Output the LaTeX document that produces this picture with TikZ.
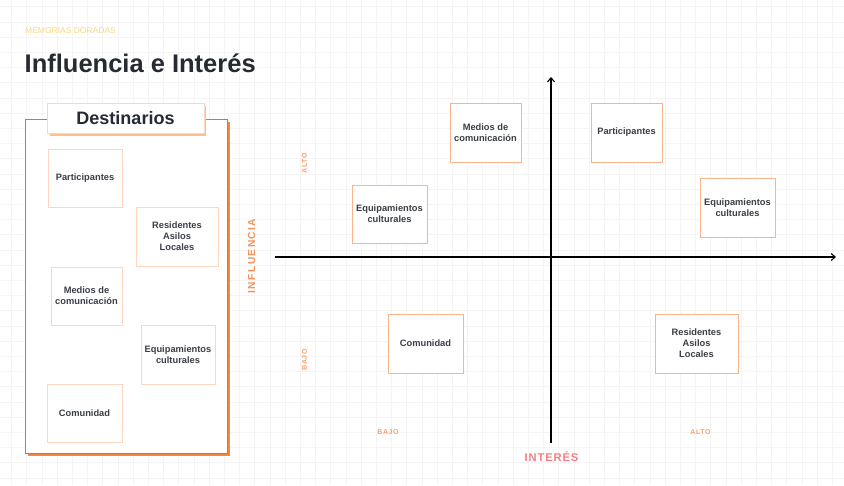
\documentclass[tikz,border=0pt]{standalone}
\usepackage{fontspec}
\setmainfont{Liberation Sans}
\newfontfamily\wideA[LetterSpace=14]{Liberation Sans}
\newfontfamily\wideB[LetterSpace=8]{Liberation Sans}
\usetikzlibrary{arrows.meta}
\definecolor{gridc}{HTML}{F4F4F4}
\definecolor{memo}{HTML}{FDD87E}
\definecolor{titlec}{HTML}{262B33}
\definecolor{txt}{HTML}{3A3E46}
\definecolor{borderR}{HTML}{FBB48A}
\definecolor{borderL}{HTML}{FDD6BD}
\definecolor{shadowO}{HTML}{F5873F}
\definecolor{shadowL}{HTML}{FDC08C}
\definecolor{panelgray}{HTML}{8A8A8A}
\definecolor{inflc}{HTML}{F4935C}
\definecolor{interc}{HTML}{F57E84}
\definecolor{smallc}{HTML}{F8A06E}
\tikzset{
  card/.style={draw=#1, fill=white, line width=0.8pt, inner sep=0pt, align=center,
    font=\fontsize{9.3}{11}\selectfont\bfseries, text=txt},
  card/.default=borderR,
  axis/.style={line width=1.2pt, black, -{Straight Barb[length=4pt,width=7pt,line width=1.1pt]}},
  smalllab/.style={font=\wideB\fontsize{7}{8}\selectfont\bfseries, text=smallc, inner sep=0pt}
}
\begin{document}
\begin{tikzpicture}[x=1pt,y=-1pt]
\useasboundingbox (0,0) rectangle (844,485);
\fill[white] (0,0) rectangle (844,485);
% grid
\foreach \i in {0,...,55} {\draw[gridc, line width=0.8pt] ({11.5+15.2*\i},0) -- ({11.5+15.2*\i},485);}
\foreach \j in {0,...,31} {\draw[gridc, line width=0.8pt] (0,{6.8+15.2*\j}) -- (844,{6.8+15.2*\j});}

% header
\node[anchor=base west, inner sep=0pt, text=memo, font=\fontsize{8.5}{10}\selectfont] (memo) at (25,33.3) {MEMORIAS DORADAS};
\node[anchor=base west, inner sep=0pt, text=titlec, font=\fontsize{25.5}{30}\selectfont\bfseries] (title) at (24.5,72) {Influencia e Interés};

% left panel
\fill[shadowO] (28,122) rectangle (229.6,455.6);
\draw[panelgray, fill=white, line width=1pt] (25,119.5) rectangle (227,453.3);
\fill[shadowL] (49.5,105.5) rectangle (206.3,135.6);
\node[draw=borderL, fill=white, line width=0.8pt, minimum width=157pt, minimum height=30pt, inner sep=0pt,
  font=\fontsize{18}{20}\selectfont\bfseries, text=titlec] (dest) at (125.5,118) {Destinarios};

\node[card=borderL, minimum width=74pt, minimum height=58pt] (lp) at (85,178) {Participantes};
\node[card=borderL, minimum width=82pt, minimum height=59pt] (lr) at (177,236.5) {Residentes\\Asilos\\Locales};
\node[card=borderL, minimum width=71pt, minimum height=58pt] (lm) at (86.5,296) {Medios de\\comunicación};
\node[card=borderL, minimum width=74pt, minimum height=59pt] (le) at (178,354.5) {Equipamientos\\culturales};
\node[card=borderL, minimum width=75pt, minimum height=58pt] (lc) at (84.5,413) {Comunidad};

% axes
\coordinate (xl) at (275,257);
\coordinate (xr) at (836,257);
\coordinate (yb) at (551,443);
\coordinate (yt) at (551,77);
\draw[axis] (xl) -- (xr);
\draw[axis] (yb) -- (yt);

% quadrant cards
\node[card, minimum width=71pt, minimum height=59pt] (rm) at (485.5,132.5) {Medios de\\comunicación};
\node[card, minimum width=71pt, minimum height=59pt] (rp) at (626.5,132.5) {Participantes};
\node[card, minimum width=75pt, minimum height=58pt] (re1) at (389.5,214) {Equipamientos\\culturales};
\node[card, minimum width=75pt, minimum height=59pt] (re2) at (737.5,207.5) {Equipamientos\\culturales};
\node[card, minimum width=75pt, minimum height=59pt] (rc) at (425.5,343.5) {Comunidad};
\node[card, minimum width=83pt, minimum height=59pt] (rr) at (696.5,343.5) {Residentes\\Asilos\\Locales};

% axis labels
\node[rotate=90, inner sep=0pt, text=inflc, font=\wideA\fontsize{10.2}{12}\selectfont\bfseries] (infl) at (251.7,256) {INFLUENCIA};
\node[smalllab, rotate=90] (ya) at (304.5,163) {ALTO};
\node[smalllab, rotate=90] (yb2) at (304.5,360) {BAJO};
\node[smalllab] (xb) at (388,431.7) {BAJO};
\node[smalllab] (xa) at (700.5,431.7) {ALTO};
\node[inner sep=0pt, text=interc, font=\wideB\fontsize{11.2}{13}\selectfont\bfseries] (inter) at (551.5,456.7) {INTERÉS};
\end{tikzpicture}
\end{document}
